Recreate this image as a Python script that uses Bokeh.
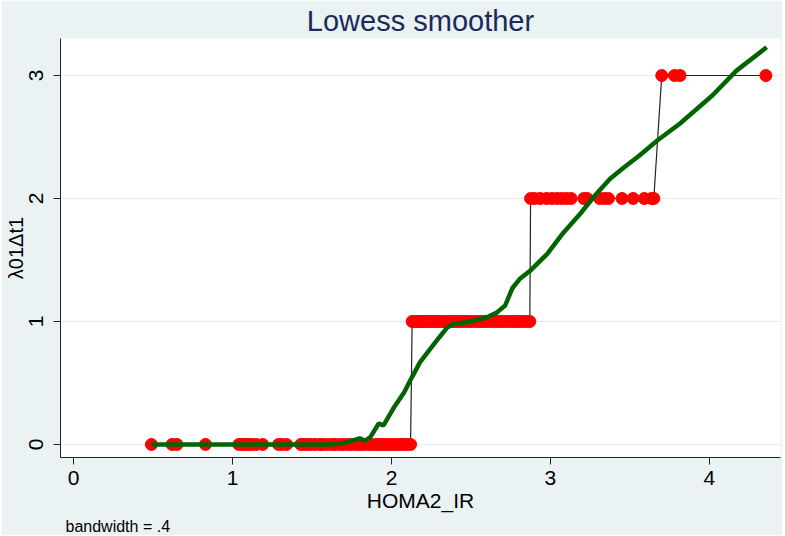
import math
from bokeh.plotting import figure
from bokeh.models import Range1d, FixedTicker, Title
from bokeh.embed import file_html
from bokeh.resources import INLINE

# ---- data ----
x_y0 = [0.49, 0.62, 0.65, 0.83, 1.04, 1.06, 1.08, 1.10, 1.12, 1.15, 1.19,
        1.29, 1.31, 1.34, 1.43, 1.45, 1.47, 1.49, 1.52, 1.55, 1.57, 1.60,
        1.63, 1.65, 1.68, 1.70, 1.73, 1.75, 1.78, 1.80, 1.82, 1.85, 1.87,
        1.90, 1.92, 1.94, 1.96, 1.98, 2.00, 2.02, 2.04, 2.06, 2.08, 2.10, 2.12]
x_y1 = [2.13, 2.14, 2.15, 2.16, 2.18, 2.19, 2.20, 2.22, 2.23, 2.25, 2.26,
        2.28, 2.29, 2.31, 2.33, 2.34, 2.36, 2.38, 2.40, 2.41, 2.43, 2.45,
        2.47, 2.49, 2.51, 2.53, 2.55, 2.57, 2.59, 2.61, 2.63, 2.65, 2.67,
        2.69, 2.71, 2.73, 2.75, 2.77, 2.79, 2.81, 2.83, 2.85, 2.87]
x_y2 = [2.875, 2.90, 2.935, 2.975, 3.01, 3.04, 3.07, 3.10, 3.13, 3.21, 3.23,
        3.31, 3.34, 3.365, 3.45, 3.52, 3.59, 3.635, 3.65]
x_y3 = [3.70, 3.78, 3.815, 4.355]

lowess_x = [0.49, 0.80, 1.20, 1.50, 1.62, 1.70, 1.75, 1.80, 1.835, 1.867,
            1.92, 1.95, 2.01, 2.08, 2.13, 2.18, 2.245, 2.30, 2.35, 2.39,
            2.45, 2.495, 2.56, 2.61, 2.66, 2.715, 2.76, 2.81, 2.87, 2.98,
            3.08, 3.19, 3.27, 3.375, 3.46, 3.56, 3.67, 3.815, 4.02, 4.17, 4.36]
lowess_y = [0.0, 0.0, 0.0, 0.0, 0.0, 0.01, 0.03, 0.05, 0.03, 0.06,
            0.17, 0.155, 0.29, 0.425, 0.55, 0.67, 0.78, 0.87, 0.95, 0.98,
            0.99, 1.0, 1.02, 1.04, 1.07, 1.13, 1.27, 1.35, 1.41, 1.55,
            1.72, 1.88, 2.01, 2.16, 2.25, 2.35, 2.47, 2.61, 2.84, 3.04, 3.23]

x_ticks = [0, 1, 2, 3, 4]
y_ticks = [0, 1, 2, 3]

title_text = "Lowess smoother"
x_label = "HOMA2_IR"
y_label = "λ01Δt1"
note_text = "bandwidth = .4"

# ---- combined observations, sorted by x (for the connecting line) ----
obs_x = x_y0 + x_y1 + x_y2 + x_y3
obs_y = [0] * len(x_y0) + [1] * len(x_y1) + [2] * len(x_y2) + [3] * len(x_y3)
order = sorted(range(len(obs_x)), key=lambda i: obs_x[i])
line_x = [obs_x[i] for i in order]
line_y = [obs_y[i] for i in order]

FONT = "Liberation Sans"
BG = "#eaf2f3"

p = figure(width=781, height=535, output_backend="svg", toolbar_location=None,
           x_range=Range1d(-0.082, 4.447), y_range=Range1d(-0.106, 3.301),
           min_border_left=59, min_border_right=2, min_border_top=38,
           min_border_bottom=78)
p.margin = (0, 3, 1, 1)
p.background_fill_color = "white"
p.border_fill_color = BG
p.outline_line_color = None

p.title.text = title_text
p.title.align = "center"
p.title.text_font = FONT
p.title.text_font_size = "29px"
p.title.text_font_style = "normal"
p.title.text_color = "#1c2a5a"
p.title.standoff = 4
p.title.offset = 0

# axes
for ax in (p.xaxis[0], p.yaxis[0]):
    ax.axis_line_color = "#222222"
    ax.axis_line_width = 1
    ax.major_tick_line_color = "#222222"
    ax.major_tick_out = 7
    ax.major_tick_in = 0
    ax.minor_tick_line_color = None
    ax.major_label_text_font = FONT
    ax.major_label_text_font_size = "21px"
    ax.major_label_text_color = "black"
    ax.axis_label_text_font = FONT
    ax.axis_label_text_font_size = "20px"
    ax.axis_label_text_font_style = "normal"
    ax.axis_label_text_color = "black"

p.xaxis.ticker = FixedTicker(ticks=x_ticks)
p.yaxis.ticker = FixedTicker(ticks=y_ticks)
p.xaxis.axis_label = x_label
p.yaxis.axis_label = y_label
p.xaxis.major_label_standoff = 6
p.xaxis.axis_label_standoff = 1
p.xaxis.axis_label_text_font_size = "21px"
p.yaxis.major_label_orientation = "parallel"
p.yaxis.major_label_standoff = 10
p.yaxis.axis_label_standoff = 0

p.xgrid.grid_line_color = None
p.ygrid.grid_line_color = "#e2ecef"
p.ygrid.grid_line_width = 1

# glyphs
p.line(line_x, line_y, line_color="#222222", line_width=1.2)
p.scatter(x_y0, [0] * len(x_y0), size=12, fill_color="#ff0000", line_color="#ff0000")
p.scatter(x_y1, [1] * len(x_y1), size=12, fill_color="#ff0000", line_color="#ff0000")
p.scatter(x_y2, [2] * len(x_y2), size=12, fill_color="#ff0000", line_color="#ff0000")
p.scatter(x_y3, [3] * len(x_y3), size=12, fill_color="#ff0000", line_color="#ff0000")
p.line(lowess_x, lowess_y, line_color="#006400", line_width=4.5)

note = Title(text=note_text, align="left", offset=5, standoff=2,
             text_font=FONT, text_font_size="16px", text_font_style="normal",
             text_color="black")
p.add_layout(note, "below")

open("out.html", "w").write(file_html(p, INLINE))
